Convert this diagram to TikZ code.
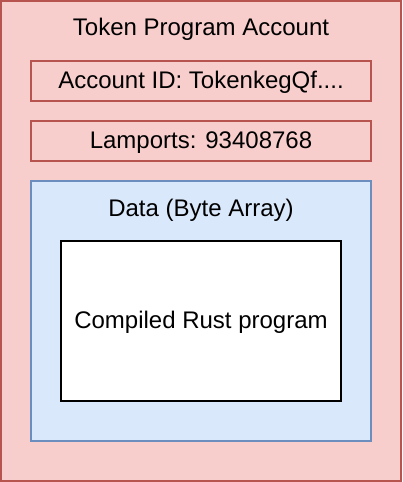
\documentclass[tikz,border=0pt]{standalone}
\usepackage{fontspec}
\setmainfont{Liberation Sans}
\usepackage{tikz}
\usetikzlibrary{positioning}
\definecolor{acctfill}{HTML}{f8cecc}
\definecolor{acctline}{HTML}{b85450}
\definecolor{datafill}{HTML}{dae8fc}
\definecolor{dataline}{HTML}{6c8ebf}

\begin{document}
\begin{tikzpicture}[x=1pt, y=-1pt, line width=2pt,
  every node/.style={font=\fontsize{24pt}{28pt}\selectfont, align=center, inner sep=0pt},
  label text/.style={text height=19pt, text depth=4.5pt},
  field/.style={draw=acctline, minimum width=340pt, minimum height=40pt, label text}]
\useasboundingbox (0,0) rectangle (402,482);
\node[draw=acctline, fill=acctfill, minimum width=400pt, minimum height=480pt] (acct) at (201, 241) {};
\node[label text] (title) at (201, 28) {Token Program Account};
\node[field] (id) at (201, 81) {Account ID: TokenkegQf....};
\node[field] (lamports) at (201, 141) {Lamports: 93408768};
\node[draw=dataline, fill=datafill, minimum width=340pt, minimum height=260pt] (data) at (201, 311) {};
\node[label text] (datalabel) at (201, 209) {Data (Byte Array)};
\node[draw=black, fill=white, minimum width=280pt, minimum height=160pt, label text] (prog) at (201, 321) {Compiled Rust program};
\end{tikzpicture}
\end{document}
